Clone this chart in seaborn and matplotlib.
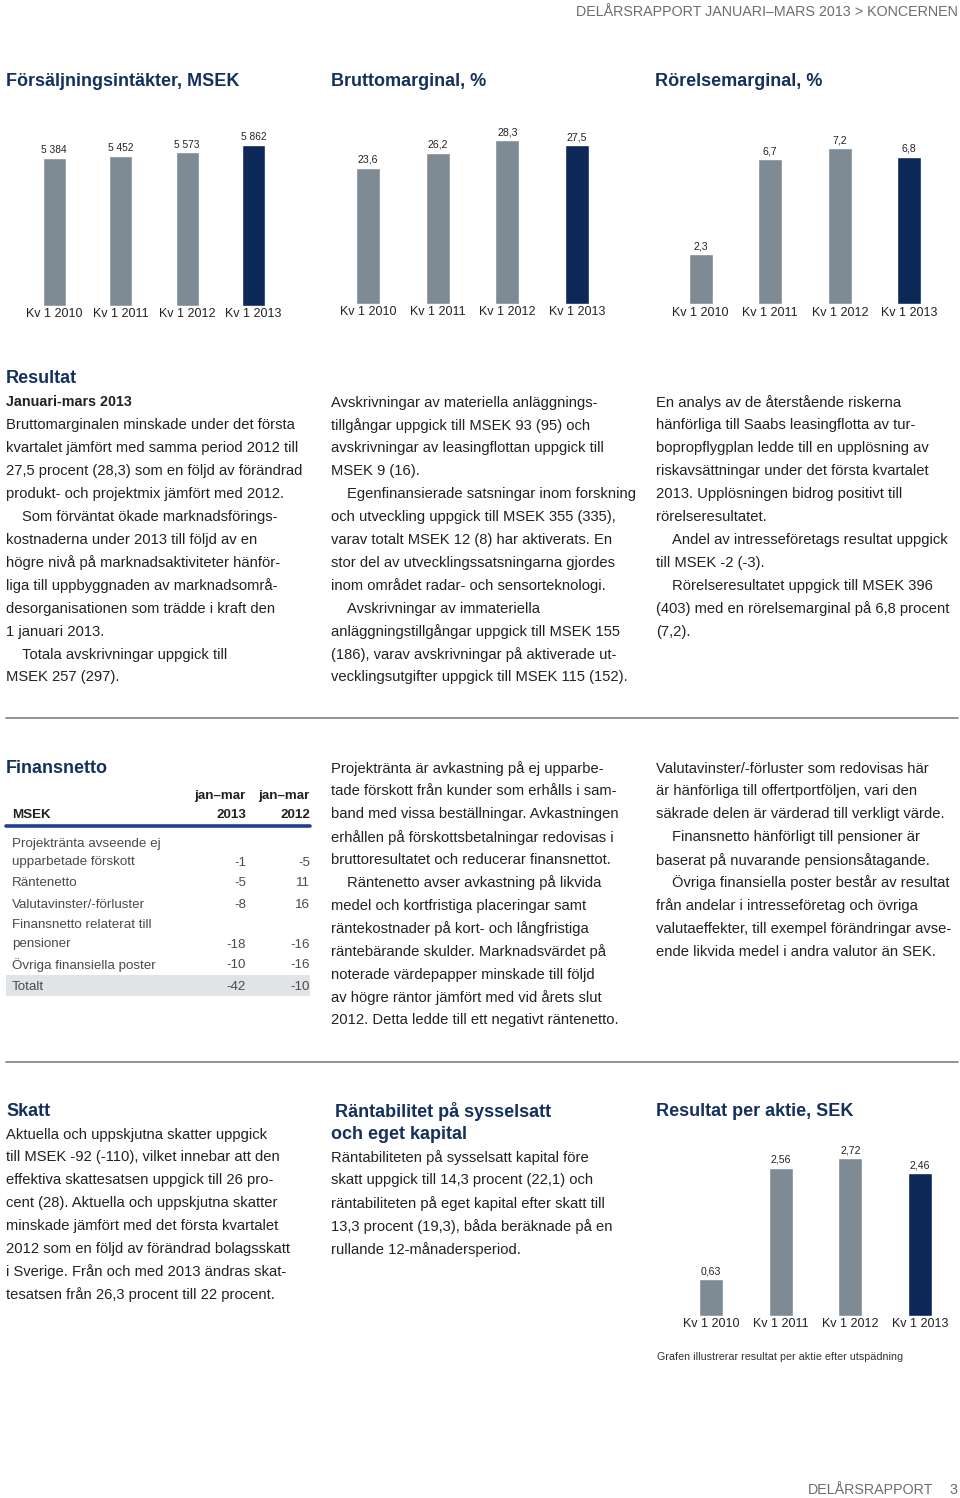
import matplotlib
matplotlib.use("Agg")
import matplotlib.pyplot as plt
import seaborn as sns
import pandas as pd

# chart data
quarters = ["Kv 1 2010", "Kv 1 2011", "Kv 1 2012", "Kv 1 2013"]
sales = [5384, 5452, 5573, 5862]
gross_margin = [23.6, 26.2, 28.3, 27.5]
op_margin = [2.3, 6.7, 7.2, 6.8]
eps = [0.63, 2.56, 2.72, 2.46]

# table data
fin_rows = ["Projektränta avseende ej\nupparbetade förskott", "Räntenetto",
            "Valutavinster/-förluster", "Finansnetto relaterat till\npensioner",
            "Övriga finansiella poster", "Totalt"]
fin_2013 = [-1, -5, -8, -18, -10, -42]
fin_2012 = [-5, 11, 16, -16, -16, -10]

W, H = 960, 1498
GRAY = "#7f8b94"
NAVY = "#0b2857"
TITLE = "#14305e"
TEXT = "#222222"
BODY = 10.6

sns.set_theme(style="white")
plt.rcParams["font.family"] = ["Liberation Sans", "DejaVu Sans"]

fig = plt.figure(figsize=(W / 100, H / 100), dpi=100)
fig.patch.set_facecolor("white")


def t(x, y, s, **kw):
    kw.setdefault("va", "center")
    kw.setdefault("color", TEXT)
    kw.setdefault("fontsize", BODY)
    fig.text(x / W, 1 - (y + 1.5) / H, s, **kw)


def para(x, y, lines, step=22.9, **kw):
    for i, ln in enumerate(lines):
        dx = 0
        if ln.startswith(">"):
            ln = ln[1:]
            dx = 16
        t(x + dx, y + i * step, ln, **kw)


def bar_chart(left, bottom, width, values, k, fmt, label_size=7.6):
    h = 190
    ax = fig.add_axes([left / W, 1 - bottom / H, width / W, h / H])
    df = pd.DataFrame({"q": quarters, "v": values})
    cols = [GRAY, GRAY, GRAY, NAVY]
    sns.barplot(data=df, x="q", y="v", hue="q", palette=cols, legend=False,
                ax=ax, width=0.345, saturation=1)
    ax.set_ylim(0, h / k)
    ax.set_xlim(-0.5, 3.5)
    ax.set_xlabel("")
    ax.set_ylabel("")
    ax.set_yticks([])
    for s in ax.spines.values():
        s.set_visible(False)
    ax.tick_params(axis="x", length=0, pad=2, labelsize=9, labelcolor=TEXT)
    ax.patch.set_alpha(0)
    for i, v in enumerate(values):
        ax.annotate(fmt(v), (i, v), xytext=(0, 2), textcoords="offset points",
                    ha="center", va="bottom", fontsize=label_size, color=TEXT)
    return ax


def sv1(v):
    return f"{v:.1f}".replace(".", ",")


def sv2(v):
    return f"{v:.2f}".replace(".", ",")


def svk(v):
    return f"{v:,.0f}".replace(",", " ")


# header / footer
t(958, 11, "DELÅRSRAPPORT JANUARI–MARS 2013 > KONCERNEN", ha="right", color="#6d6d6d", fontsize=10.3)
t(933, 1489, "DELÅRSRAPPORT", ha="right", color="#6d6d6d", fontsize=10.3)
t(957, 1489, "3", ha="right", color="#6d6d6d", fontsize=10.3)

# top charts
t(6, 80, "Försäljningsintäkter, MSEK", fontsize=13, fontweight="bold", color=TITLE)
t(331, 80, "Bruttomarginal, %", fontsize=13, fontweight="bold", color=TITLE)
t(655, 80, "Rörelsemarginal, %", fontsize=13, fontweight="bold", color=TITLE)
bar_chart(21.1, 305.5, 265.6, sales, 161 / 5862, svk, 7.3)
bar_chart(333.5, 303.5, 278, gross_margin, 5.76, sv1)
bar_chart(666, 304.3, 278, op_margin, 21.7, sv1)

# Resultat section
t(6, 377, "Resultat", fontsize=13, fontweight="bold", color=TITLE)
t(6, 401, "Januari-mars 2013", fontweight="bold", fontsize=10.3)
para(6, 424, [
    "Bruttomarginalen minskade under det första",
    "kvartalet jämfört med samma period 2012 till",
    "27,5 procent (28,3) som en följd av förändrad",
    "produkt- och projektmix jämfört med 2012.",
    ">Som förväntat ökade marknadsförings-",
    "kostnaderna under 2013 till följd av en",
    "högre nivå på marknadsaktiviteter hänför-",
    "liga till uppbyggnaden av marknadsområ-",
    "desorganisationen som trädde i kraft den",
    "1 januari 2013.",
    ">Totala avskrivningar uppgick till",
    "MSEK 257 (297).",
])
para(331, 401, [
    "Avskrivningar av materiella anläggnings-",
    "tillgångar uppgick till MSEK 93 (95) och",
    "avskrivningar av leasingflottan uppgick till",
    "MSEK 9 (16).",
    ">Egenfinansierade satsningar inom forskning",
    "och utveckling uppgick till MSEK 355 (335),",
    "varav totalt MSEK 12 (8) har aktiverats. En",
    "stor del av utvecklingssatsningarna gjordes",
    "inom området radar- och sensorteknologi.",
    ">Avskrivningar av immateriella",
    "anläggningstillgångar uppgick till MSEK 155",
    "(186), varav avskrivningar på aktiverade ut-",
    "vecklingsutgifter uppgick till MSEK 115 (152).",
])
para(656, 401, [
    "En analys av de återstående riskerna",
    "hänförliga till Saabs leasingflotta av tur-",
    "bopropflygplan ledde till en upplösning av",
    "riskavsättningar under det första kvartalet",
    "2013. Upplösningen bidrog positivt till",
    "rörelseresultatet.",
    ">Andel av intresseföretags resultat uppgick",
    "till MSEK -2 (-3).",
    ">Rörelseresultatet uppgick till MSEK 396",
    "(403) med en rörelsemarginal på 6,8 procent",
    "(7,2).",
])

fig.add_artist(plt.Line2D([6 / W, 958 / W], [1 - 718 / H, 1 - 718 / H], color="#8a8a8a", lw=1.3))

# Finansnetto section
t(6, 767, "Finansnetto", fontsize=13, fontweight="bold", color=TITLE)
t(246, 794, "jan–mar", ha="right", fontweight="bold", fontsize=9.6)
t(310, 794, "jan–mar", ha="right", fontweight="bold", fontsize=9.6)
t(12, 813, "MSEK", fontweight="bold", fontsize=9.6)
t(246, 813, "2013", ha="right", fontweight="bold", fontsize=9.6)
t(310, 813, "2012", ha="right", fontweight="bold", fontsize=9.6)
fig.add_artist(plt.Line2D([6 / W, 310 / W], [1 - 826 / H, 1 - 826 / H], color="#23408e", lw=2.6))
fig.add_artist(plt.Rectangle((6 / W, 1 - 996 / H), 304 / W, 21 / H, color="#e1e4e7", lw=0))
y = 842
TBL = "#4a4a4a"
for name, a, b in zip(fin_rows, fin_2013, fin_2012):
    parts = name.split("\n")
    for p in parts[:-1]:
        t(12, y, p, fontsize=9.6, color=TBL)
        y += 19
    t(12, y, parts[-1], fontsize=9.6, color=TBL)
    t(246, y, str(a), ha="right", fontsize=9.6, color=TBL)
    t(310, y, str(b), ha="right", fontsize=9.6, color=TBL)
    y += 21

para(331, 767, [
    "Projektränta är avkastning på ej upparbe-",
    "tade förskott från kunder som erhålls i sam-",
    "band med vissa beställningar. Avkastningen",
    "erhållen på förskottsbetalningar redovisas i",
    "bruttoresultatet och reducerar finansnettot.",
    ">Räntenetto avser avkastning på likvida",
    "medel och kortfristiga placeringar samt",
    "räntekostnader på kort- och långfristiga",
    "räntebärande skulder. Marknadsvärdet på",
    "noterade värdepapper minskade till följd",
    "av högre räntor jämfört med vid årets slut",
    "2012. Detta ledde till ett negativt räntenetto.",
])
para(656, 767, [
    "Valutavinster/-förluster som redovisas här",
    "är hänförliga till offertportföljen, vari den",
    "säkrade delen är värderad till verkligt värde.",
    ">Finansnetto hänförligt till pensioner är",
    "baserat på nuvarande pensionsåtagande.",
    ">Övriga finansiella poster består av resultat",
    "från andelar i intresseföretag och övriga",
    "valutaeffekter, till exempel förändringar avse-",
    "ende likvida medel i andra valutor än SEK.",
])

fig.add_artist(plt.Line2D([6 / W, 958 / W], [1 - 1062 / H, 1 - 1062 / H], color="#8a8a8a", lw=1.3))

# Skatt / Räntabilitet / EPS
t(6, 1110, "Skatt", fontsize=13, fontweight="bold", color=TITLE)
para(6, 1133, [
    "Aktuella och uppskjutna skatter uppgick",
    "till MSEK -92 (-110), vilket innebar att den",
    "effektiva skattesatsen uppgick till 26 pro-",
    "cent (28). Aktuella och uppskjutna skatter",
    "minskade jämfört med det första kvartalet",
    "2012 som en följd av förändrad bolagsskatt",
    "i Sverige. Från och med 2013 ändras skat-",
    "tesatsen från 26,3 procent till 22 procent.",
])
t(335, 1110, "Räntabilitet på sysselsatt", fontsize=13, fontweight="bold", color=TITLE)
t(331, 1133, "och eget kapital", fontsize=13, fontweight="bold", color=TITLE)
para(331, 1156, [
    "Räntabiliteten på sysselsatt kapital före",
    "skatt uppgick till 14,3 procent (22,1) och",
    "räntabiliteten på eget kapital efter skatt till",
    "13,3 procent (19,3), båda beräknade på en",
    "rullande 12-månadersperiod.",
])
t(656, 1110, "Resultat per aktie, SEK", fontsize=13, fontweight="bold", color=TITLE)
bar_chart(676.2, 1315.7, 278.8, eps, 57.85, sv2)
t(657, 1355, "Grafen illustrerar resultat per aktie efter utspädning", fontsize=7.75, color="#333333")

fig.savefig("out.png", dpi=100, facecolor="white")
